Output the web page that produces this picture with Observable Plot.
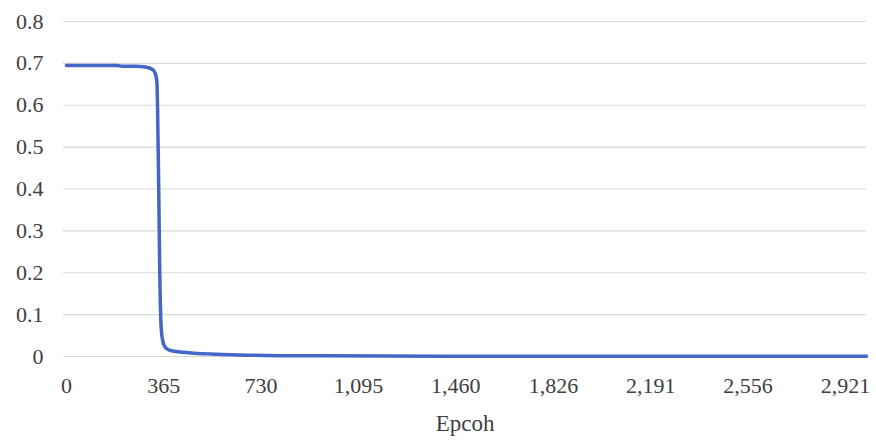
<!DOCTYPE html>
<html>
<head>
<meta charset="utf-8">
<script src="https://cdn.jsdelivr.net/npm/d3@7"></script>
<script src="https://cdn.jsdelivr.net/npm/@observablehq/plot@0.6"></script>
<style>
  html, body { margin: 0; padding: 0; background: #fff; font-family: "Liberation Serif", serif; }
  #chart { width: 876px; height: 444px; }
</style>
</head>
<body>
<div id="chart"></div>
<script>
const epochs = [0, 100, 190, 210, 260, 290, 305, 318, 328, 334, 338, 340, 342, 345, 348, 350, 352, 354, 357, 361, 366, 372, 380, 392, 410, 440, 480, 540, 620, 700, 800, 950, 1200, 1600, 2200, 3000];
const losses = [0.695, 0.695, 0.695, 0.693, 0.693, 0.692, 0.690, 0.687, 0.682, 0.674, 0.662, 0.645, 0.58, 0.45, 0.30, 0.20, 0.13, 0.085, 0.055, 0.038, 0.027, 0.021, 0.017, 0.014, 0.012, 0.010, 0.008, 0.006, 0.004, 0.003, 0.002, 0.0015, 0.001, 0.0007, 0.0005, 0.0004];
const xTicks = [0, 365, 730, 1095, 1460, 1826, 2191, 2556, 2921];
const yTicks = [0, 0.1, 0.2, 0.3, 0.4, 0.5, 0.6, 0.7, 0.8];
const xLabel = "Epcoh";

const data = epochs.map((e, i) => ({epoch: e, loss: losses[i]}));

const chart = Plot.plot({
  width: 876,
  height: 444,
  marginLeft: 63,
  marginRight: 10,
  marginTop: 21,
  marginBottom: 88,
  style: {fontSize: "22px", color: "#404040", background: "#fff"},
  x: {domain: [-11, 3000], ticks: xTicks, tickFormat: d3.format(","), tickSize: 0, tickPadding: 21, label: xLabel, labelAnchor: "center", labelArrow: "none", labelOffset: 74},
  y: {domain: [0, 0.8], ticks: yTicks, tickFormat: d => String(+d.toFixed(1)), tickSize: 0, tickPadding: 20, label: null},
  marks: [
    Plot.gridY(yTicks, {stroke: "#d9d9d9", strokeOpacity: 1, strokeWidth: 1.2}),
    Plot.line(data, {x: "epoch", y: "loss", stroke: "#4466c4", strokeWidth: 3.5, curve: "monotone-x", strokeLinejoin: "round", strokeLinecap: "round"})
  ]
});
chart.setAttribute("font-family", "Liberation Serif");
chart.style.fontFamily = "Liberation Serif";
chart.querySelectorAll("g").forEach(g => { if (g.hasAttribute("font-family")) g.setAttribute("font-family", "Liberation Serif"); });
chart.querySelectorAll("text").forEach(t => t.setAttribute("font-family", "Liberation Serif"));
chart.querySelectorAll("[aria-label='x-axis label'] text").forEach(t => t.style.fontSize = "23px");
document.getElementById("chart").appendChild(chart);
</script>
</body>
</html>
